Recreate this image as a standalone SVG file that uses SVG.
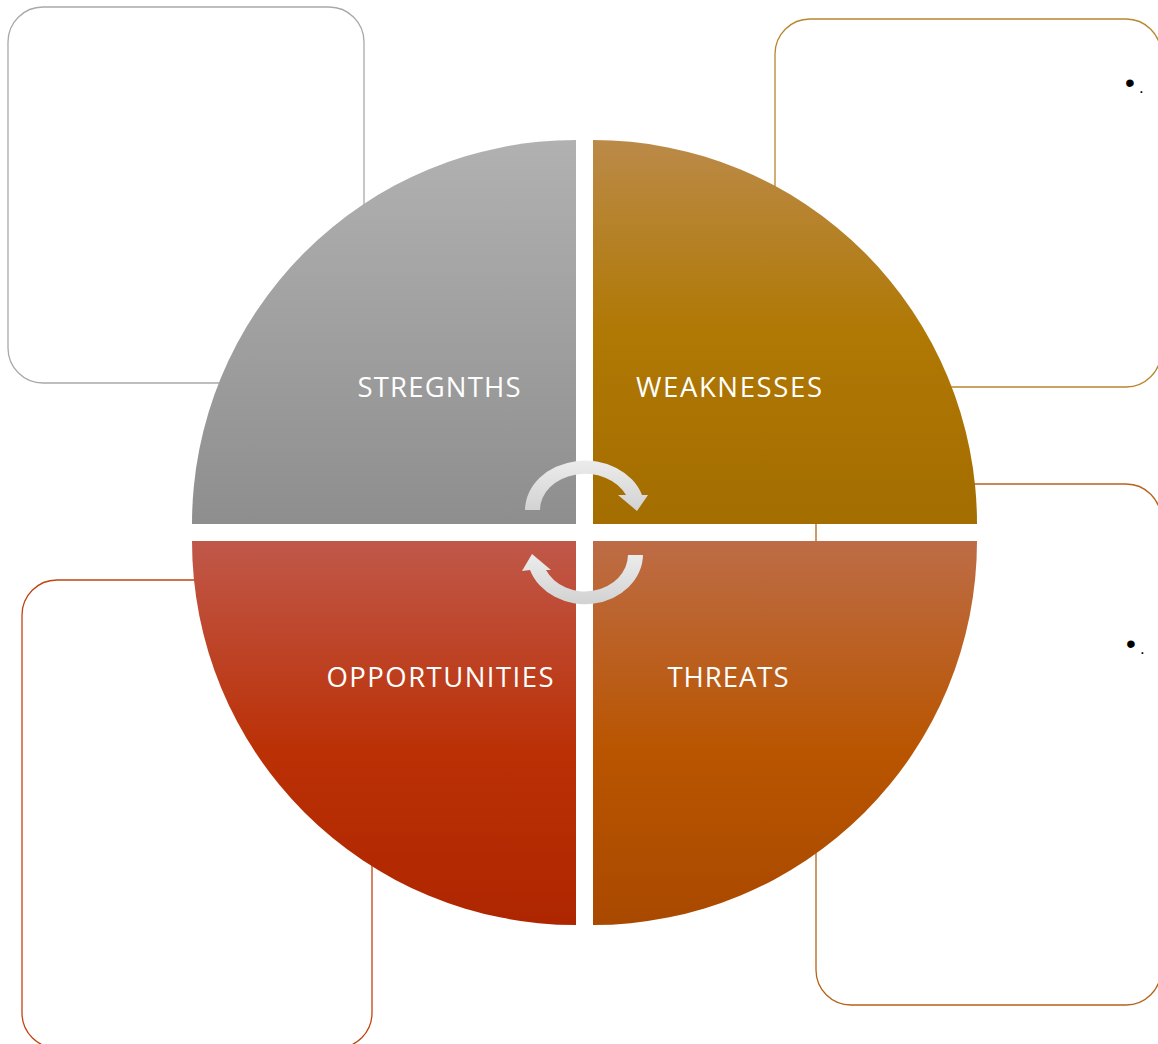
<svg xmlns="http://www.w3.org/2000/svg" width="1158" height="1044" viewBox="0 0 1158 1044">
  <style>
    .box { fill: #ffffff; stroke-width: 1.3; }
    .label { font-family: "Open Sans", "Noto Sans", "Liberation Sans", sans-serif; font-size: 27.5px; fill: #ffffff; text-anchor: middle; }
    .bullet { font-family: "Liberation Sans", Arial, sans-serif; fill: #000000; }
    .cycle { fill: url(#gArrow); }
  </style>
  <defs>
    <linearGradient id="gS" x1="0" y1="0" x2="0" y2="1">
      <stop offset="0" stop-color="#b1b1b1"/>
      <stop offset="1" stop-color="#8e8e8e"/>
    </linearGradient>
    <linearGradient id="gW" x1="0" y1="0" x2="0" y2="1">
      <stop offset="0" stop-color="#bb8a48"/>
      <stop offset="0.5" stop-color="#b07804"/>
      <stop offset="1" stop-color="#a36d00"/>
    </linearGradient>
    <linearGradient id="gO" x1="0" y1="0" x2="0" y2="1">
      <stop offset="0" stop-color="#c0584a"/>
      <stop offset="0.55" stop-color="#bb3005"/>
      <stop offset="1" stop-color="#ae2600"/>
    </linearGradient>
    <linearGradient id="gT" x1="0" y1="0" x2="0" y2="1">
      <stop offset="0" stop-color="#bd6c46"/>
      <stop offset="0.55" stop-color="#b95500"/>
      <stop offset="1" stop-color="#a94900"/>
    </linearGradient>
    <linearGradient id="gArrow" x1="0" y1="0" x2="0" y2="1">
      <stop offset="0" stop-color="#ececec"/>
      <stop offset="1" stop-color="#d2d2d2"/>
    </linearGradient>
  </defs>

  <!-- text panels behind the circle -->
  <g id="panel-strengths">
    <rect class="box" x="8" y="7" width="356" height="376" rx="35" ry="35" stroke="#a9a9a9"/>
  </g>
  <g id="panel-weaknesses">
    <rect class="box" x="775" y="19" width="386" height="368" rx="35" ry="35" stroke="#b8862e"/>
    <text class="bullet" x="1125" y="92"><tspan font-size="28">•</tspan><tspan font-size="17" x="1139" y="93">.</tspan></text>
  </g>
  <g id="panel-threats">
    <rect class="box" x="816" y="484" width="345" height="521" rx="35" ry="35" stroke="#b8621a"/>
    <text class="bullet" x="1126" y="653"><tspan font-size="28">•</tspan><tspan font-size="17" x="1140" y="654">.</tspan></text>
  </g>
  <g id="panel-opportunities">
    <rect class="box" x="22" y="580" width="350" height="468" rx="35" ry="35" stroke="#c0440f"/>
  </g>

  <!-- quadrants -->
  <g id="strengths">
    <path d="M576,524 L192,524 A384,384 0 0 1 576,140 Z" fill="url(#gS)"/>
    <text class="label" x="439" y="397" textLength="163" lengthAdjust="spacing">STREGNTHS</text>
  </g>
  <g id="weaknesses">
    <path d="M593,524 L593,140 A384,384 0 0 1 977,524 Z" fill="url(#gW)"/>
    <text class="label" x="729" y="397" textLength="186" lengthAdjust="spacing">WEAKNESSES</text>
  </g>
  <g id="threats">
    <path d="M593,541 L977,541 A384,384 0 0 1 593,925 Z" fill="url(#gT)"/>
    <text class="label" x="728" y="687" textLength="121" lengthAdjust="spacing">THREATS</text>
  </g>
  <g id="opportunities">
    <path d="M576,541 L576,925 A384,384 0 0 1 192,541 Z" fill="url(#gO)"/>
    <text class="label" x="440" y="687" textLength="227" lengthAdjust="spacing">OPPORTUNITIES</text>
  </g>

  <!-- cycle arrows -->
  <g id="connectors">
    <path class="cycle" d="M525,510 A60,50 0 0 1 642,495 L648,495 L637,511 L618,495 L626,495 A45,36 0 0 0 540,510 Z"/>
    <path class="cycle" d="M643,555 A58,50 0 0 1 530,570 L522,571 L532,554 L551,570 L546,570 A43,37 0 0 0 628,555 Z"/>
  </g>
</svg>
